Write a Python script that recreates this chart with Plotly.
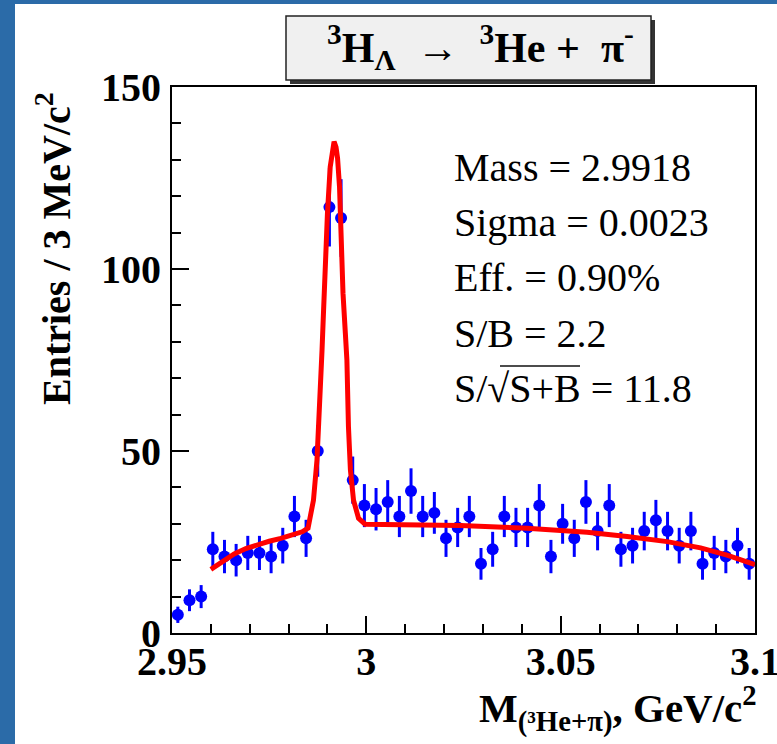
import numpy as np
import plotly.graph_objects as go

# ---------------- data ----------------
bin_centers = [2.9515, 2.9545, 2.9575, 2.9605, 2.9635, 2.9665, 2.9695, 2.9725, 2.9755, 2.9785,
               2.9815, 2.9845, 2.9875, 2.9905, 2.9935, 2.9965, 2.9995, 3.0025, 3.0055, 3.0085,
               3.0115, 3.0145, 3.0175, 3.0205, 3.0235, 3.0265, 3.0295, 3.0325, 3.0355, 3.0385,
               3.0415, 3.0445, 3.0475, 3.0505, 3.0535, 3.0565, 3.0595, 3.0625, 3.0655, 3.0685,
               3.0715, 3.0745, 3.0775, 3.0805, 3.0835, 3.0865, 3.0895, 3.0925, 3.0955, 3.0985]
counts = [5, 9, 10, 23, 21, 20, 22, 22, 21, 24,
          32, 26, 50, 117, 114, 42, 35, 34, 36, 32,
          39, 32, 33, 26, 29, 32, 19, 23, 32, 29,
          29, 35, 21, 30, 26, 36, 28, 35, 23, 24,
          28, 31, 28, 24, 28, 19, 22, 21, 24, 19]

fit_x = [2.9600, 2.9630, 2.9660, 2.9690, 2.9720, 2.9750, 2.9780, 2.9810, 2.9835, 2.9850,
         2.9864, 2.9873, 2.9882, 2.9886, 2.9890, 2.9894, 2.9900, 2.9907, 2.9912, 2.9917,
         2.9922, 2.9926, 2.9931, 2.9935, 2.9940, 2.9946, 2.9950, 2.9954, 2.9959, 2.9967,
         2.9980, 2.9997, 3.0100, 3.0242, 3.0413, 3.0568, 3.0671, 3.0774, 3.0860, 3.0928,
         3.1000]
fit_y = [17.5, 19.8, 21.7, 23.2, 24.3, 25.2, 26.0, 26.9, 27.8, 28.8,
         36.5, 47.5, 65.8, 77.7, 88.7, 100.3, 115.4, 128.0, 133.0, 135.0,
         133.5, 130.4, 122.6, 104.4, 93.3, 82.4, 75.0, 56.7, 44.8, 36.5,
         31.5, 29.9, 29.7, 29.5, 28.8, 27.7, 26.5, 25.1, 23.4, 21.4,
         18.8]

x_tickvals = [2.95, 3.0, 3.05, 3.1]
x_ticktext = ["2.95", "3", "3.05", "3.1"]
y_tickvals = [0, 50, 100, 150]
y_ticktext = ["0", "50", "100", "150"]

stats_lines = ["Mass = 2.9918", "Sigma = 0.0023", "Eff. = 0.90%", "S/B = 2.2", "S/\u221aS+B = 11.8"]

# ---------------- layout geometry ----------------
W, H = 777, 744
L, R, T, B = 172, 755, 87, 633
PW, PH = R - L, B - T


def px2x(px):
    return (px - L) / PW


def py2y(py):
    return (B - py) / PH


SERIF = "Liberation Serif"
BLUE_FRAME = "#2b6ba8"

fig = go.Figure()

fig.add_trace(go.Scatter(
    x=bin_centers, y=counts, mode="markers",
    marker=dict(symbol="circle", size=12, color="#0000ff"),
    error_y=dict(type="data", array=list(np.sqrt(counts)), visible=True,
                 color="#0000ff", thickness=3, width=0),
    showlegend=False, hoverinfo="skip"))

fig.add_trace(go.Scatter(
    x=fit_x, y=fit_y, mode="lines",
    line=dict(color="#ff0000", width=5),
    showlegend=False, hoverinfo="skip"))

shapes = []
# blue page border (left and top)
shapes.append(dict(type="rect", xref="paper", yref="paper", layer="below",
                   x0=px2x(-5), x1=px2x(15), y0=py2y(H + 5), y1=py2y(-5),
                   fillcolor=BLUE_FRAME, line=dict(width=0)))
shapes.append(dict(type="rect", xref="paper", yref="paper", layer="below",
                   x0=px2x(-5), x1=px2x(W + 5), y0=py2y(4), y1=py2y(-5),
                   fillcolor=BLUE_FRAME, line=dict(width=0)))
# title box shadow and box
shapes.append(dict(type="rect", xref="paper", yref="paper",
                   x0=px2x(290), x1=px2x(655), y0=py2y(84), y1=py2y(20),
                   fillcolor="#333333", line=dict(width=0)))
shapes.append(dict(type="rect", xref="paper", yref="paper",
                   x0=px2x(286), x1=px2x(651), y0=py2y(80), y1=py2y(16),
                   fillcolor="#f0f0f0", line=dict(color="#222222", width=1.5)))
# overline of sqrt
shapes.append(dict(type="line", xref="paper", yref="paper",
                   x0=px2x(500), x1=px2x(580), y0=py2y(366), y1=py2y(366),
                   line=dict(color="#111111", width=1.5)))

annotations = []
annotations.append(dict(
    xref="paper", yref="paper", x=px2x(480), y=py2y(47),
    xanchor="center", yanchor="middle", showarrow=False,
    text="<b><sup>3</sup>H<sub>\u039b</sub></b>  \u2192  <b><sup>3</sup>He +  \u03c0<sup>-</sup></b>",
    font=dict(family=SERIF, size=42, color="black")))

stat_y = [167, 222, 277, 333, 388]
for txt, yy in zip(stats_lines, stat_y):
    annotations.append(dict(
        xref="paper", yref="paper", x=px2x(452), y=py2y(yy),
        xanchor="left", yanchor="middle", showarrow=False, text=txt,
        font=dict(family=SERIF, size=40, color="black")))

annotations.append(dict(
    xref="paper", yref="paper", x=px2x(54), y=py2y(249),
    xanchor="center", yanchor="middle", showarrow=False, textangle=-90,
    text="<b>Entries / 3 MeV/c<sup>2</sup></b>",
    font=dict(family=SERIF, size=40, color="black")))

annotations.append(dict(
    xref="paper", yref="paper", x=px2x(759), y=py2y(708),
    xanchor="right", yanchor="middle", showarrow=False,
    text="<b>M<sub>(\u00b3He+\u03c0)</sub>, GeV/c<sup>2</sup></b>",
    font=dict(family=SERIF, size=41, color="black")))

axis_common = dict(
    showgrid=False, zeroline=False, showline=True, mirror=True,
    linecolor="black", linewidth=2, ticks="inside", tickwidth=2,
    tickcolor="black", ticklen=17, ticklabeloverflow="allow", automargin=False,
    tickfont=dict(family=SERIF, size=40, color="black", weight="bold"))

fig.update_layout(
    width=W, height=H,
    margin=dict(l=L, r=W - R, t=T, b=H - B, autoexpand=False),
    paper_bgcolor="white", plot_bgcolor="white",
    font=dict(family=SERIF, color="black"),
    xaxis=dict(range=[2.95, 3.1], tickmode="array", tickvals=x_tickvals, ticktext=x_ticktext,
               minor=dict(dtick=0.01, ticks="inside", ticklen=9, tickwidth=2, tickcolor="black"),
               ticklabelstandoff=-8, **axis_common),
    yaxis=dict(range=[0, 150], tickmode="array", tickvals=y_tickvals, ticktext=y_ticktext,
               minor=dict(dtick=10, ticks="inside", ticklen=9, tickwidth=2, tickcolor="black"),
               ticklabelstandoff=1, **axis_common),
    shapes=shapes, annotations=annotations,
)

fig.write_html("out.html")
